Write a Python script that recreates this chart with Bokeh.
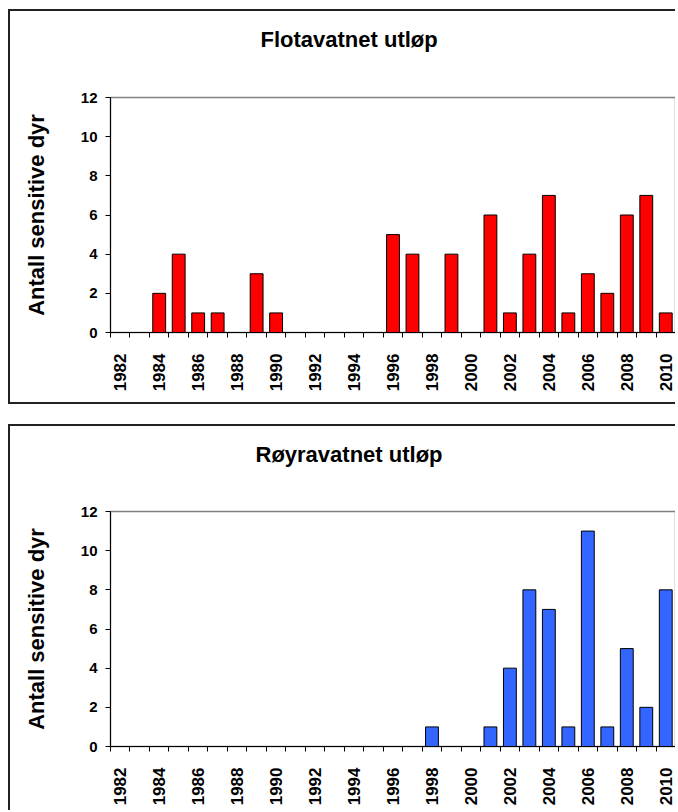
import math
from bokeh.plotting import figure
from bokeh.layouts import column
from bokeh.models import Range1d, FixedTicker, ColumnDataSource, Title
from bokeh.embed import file_html
from bokeh.resources import INLINE

# ---- data ----
years = list(range(1982, 2011))
flota_values = [0, 0, 2, 4, 1, 1, 0, 3, 1, 0, 0, 0, 0, 0, 5, 4, 0, 4, 0, 6,
                1, 4, 7, 1, 3, 2, 6, 7, 1]
royra_values = [0, 0, 0, 0, 0, 0, 0, 0, 0, 0, 0, 0, 0, 0, 0, 0, 1, 0, 0, 1,
                4, 8, 7, 1, 11, 1, 5, 2, 8]
tick_years = years[::2]
y_ticks = [0, 2, 4, 6, 8, 10, 12]
titles = ["Flotavatnet utløp", "Røyravatnet utløp"]
y_label = "Antall sensitive dyr"

FONT = "Liberation Sans"


def make_panel(title, values, color, height, mb_top, mb_bottom, title_offset,
               spacer, styles):
    src = ColumnDataSource(dict(year=years, value=values))
    p = figure(width=667, height=height, output_backend="svg",
               toolbar_location=None,
               x_range=Range1d(years[0] - 0.5, years[-1] + 0.5),
               y_range=Range1d(0, 12),
               min_border_left=100, min_border_right=2,
               min_border_top=mb_top, min_border_bottom=mb_bottom)
    p.vbar(x="year", top="value", width=0.66, source=src,
           fill_color=color, line_color="black", line_width=1)

    # spacer between title and plot area
    p.add_layout(Title(text=" ", text_font_size="1px", standoff=spacer), "above")

    p.title.text = title
    p.title.align = "left"
    p.title.offset = title_offset
    p.title.text_font = FONT
    p.title.text_font_size = "22px"
    p.title.text_font_style = "bold"
    p.title.text_color = "black"
    p.title.standoff = 10

    p.xgrid.visible = False
    p.ygrid.visible = False
    p.background_fill_color = "white"
    p.border_fill_color = "white"
    p.outline_line_color = "#808080"
    p.outline_line_width = 1.5

    xa = p.xaxis[0]
    xa.ticker = FixedTicker(ticks=tick_years,
                            minor_ticks=[y - 0.5 for y in years] + [years[-1] + 0.5])
    xa.major_tick_out = 0
    xa.major_tick_in = 0
    xa.minor_tick_out = 5
    xa.minor_tick_in = 0
    xa.minor_tick_line_color = "black"
    xa.axis_line_color = "black"
    xa.major_label_orientation = math.pi / 2
    xa.major_label_text_font = FONT
    xa.major_label_text_font_size = "17px"
    xa.major_label_text_font_style = "bold"
    xa.major_label_text_color = "black"
    xa.major_label_standoff = 16

    ya = p.yaxis[0]
    ya.ticker = FixedTicker(ticks=y_ticks, minor_ticks=[])
    ya.major_tick_out = 5
    ya.major_tick_in = 0
    ya.major_tick_line_color = "black"
    ya.axis_line_color = "black"
    ya.major_label_text_font = FONT
    ya.major_label_text_font_size = "15px"
    ya.major_label_text_font_style = "bold"
    ya.major_label_text_color = "black"
    ya.major_label_standoff = 8
    ya.axis_label = y_label
    ya.axis_label_text_font = FONT
    ya.axis_label_text_font_size = "22px"
    ya.axis_label_text_font_style = "bold"
    ya.axis_label_text_color = "black"
    ya.axis_label_standoff = 29

    p.styles = styles
    return p


border = "2px solid #222222"
p1 = make_panel(titles[0], flota_values, "#FF0000", 395, 86, 74, 150, 38,
                {"margin-left": "8px", "margin-top": "9px",
                 "border-left": border, "border-top": border,
                 "border-bottom": border})
p2 = make_panel(titles[1], royra_values, "#3366FF", 386, 85, 66, 145, 37,
                {"margin-left": "8px", "margin-top": "20px",
                 "border-left": border, "border-top": border})

layout = column(p1, p2, spacing=0)

with open("out.html", "w") as f:
    f.write(file_html(layout, INLINE))
